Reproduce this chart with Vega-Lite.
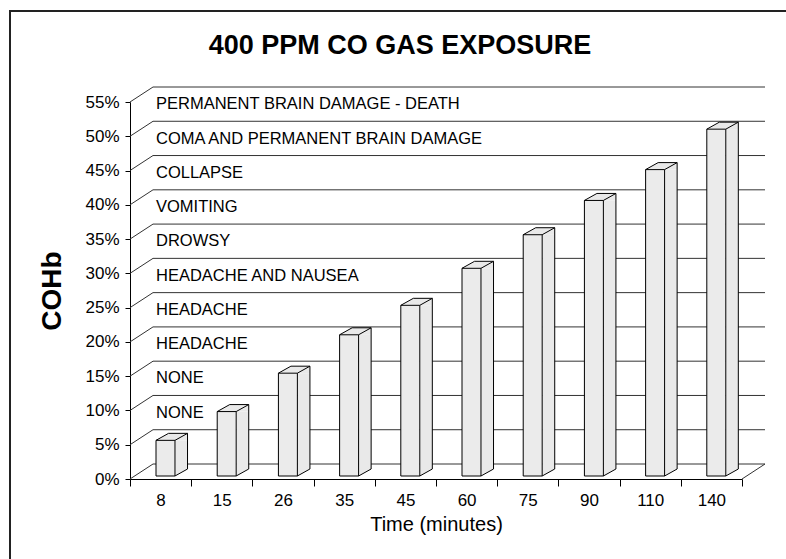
{
  "$schema": "https://vega.github.io/schema/vega-lite/v6.json",
  "autosize": "none",
  "width": 830,
  "height": 580,
  "padding": {"left": 10, "top": 11, "right": 0, "bottom": 0},
  "background": "white",
  "title": {
    "text": "400 PPM CO GAS EXPOSURE",
    "font": "Liberation Sans",
    "fontSize": 27,
    "fontWeight": "bold",
    "color": "#000",
    "anchor": "middle",
    "frame": "group",
    "baseline": "middle",
    "offset": 0,
    "dy": 62,
    "dx": -25
  },
  "config": {
    "view": {"stroke": "#222", "strokeWidth": 2},
    "font": "Liberation Sans",
    "axis": {"grid": false, "domainColor": "#000", "tickColor": "#000", "labelColor": "#000", "titleColor": "#000", "labelFont": "Liberation Sans", "titleFont": "Liberation Sans"},
    "axisY": {"offset": -120, "tickSize": 5, "labelPadding": 6, "labelFontSize": 17, "titleFontSize": 28, "titleFontWeight": "bold", "titlePadding": 18},
    "axisX": {"offset": -112, "tickSize": 7, "tickBand": "extent", "labelPadding": 6, "labelFontSize": 17, "labelAngle": 0, "titleFontSize": 20, "titleFontWeight": "normal", "titlePadding": 6}
  },
  "datasets": {
    "bars": [
      {"time": 8, "cohb": 5.2},
      {"time": 15, "cohb": 9.4},
      {"time": 26, "cohb": 15.0},
      {"time": 35, "cohb": 20.6},
      {"time": 45, "cohb": 24.9},
      {"time": 60, "cohb": 30.3},
      {"time": 75, "cohb": 35.2},
      {"time": 90, "cohb": 40.2},
      {"time": 110, "cohb": 44.7},
      {"time": 140, "cohb": 50.6}
    ],
    "levels": [
      {"level": 0}, {"level": 5}, {"level": 10}, {"level": 15}, {"level": 20}, {"level": 25},
      {"level": 30}, {"level": 35}, {"level": 40}, {"level": 45}, {"level": 50}, {"level": 55}
    ],
    "zones": [
      {"from": 5, "effect": "NONE"},
      {"from": 10, "effect": "NONE"},
      {"from": 15, "effect": "HEADACHE"},
      {"from": 20, "effect": "HEADACHE"},
      {"from": 25, "effect": "HEADACHE AND NAUSEA"},
      {"from": 30, "effect": "DROWSY"},
      {"from": 35, "effect": "VOMITING"},
      {"from": 40, "effect": "COLLAPSE"},
      {"from": 45, "effect": "COMA AND PERMANENT BRAIN DAMAGE"},
      {"from": 50, "effect": "PERMANENT BRAIN DAMAGE - DEATH"}
    ]
  },
  "layer": [
    {
      "data": {"name": "levels"},
      "mark": {"type": "rule", "color": "#333", "strokeWidth": 1, "xOffset": 23, "x2Offset": 23, "yOffset": -15},
      "encoding": {
        "x": {"datum": 8, "type": "ordinal", "bandPosition": 0, "title": "Time (minutes)",
              "scale": {"range": [120, 732], "paddingInner": 0, "paddingOuter": 0},
              "axis": {"domain": true}},
        "x2": {"datum": 140, "bandPosition": 1},
        "y": {"field": "level", "type": "quantitative", "title": "COHb",
              "scale": {"domain": [0, 55], "range": [468, 91], "nice": false, "zero": false},
              "axis": {"values": [0, 5, 10, 15, 20, 25, 30, 35, 40, 45, 50, 55], "labelExpr": "datum.value + '%'"}}
      }
    },
    {
      "data": {"name": "levels"},
      "mark": {"type": "rule", "color": "#333", "strokeWidth": 1, "x2Offset": 23, "y2Offset": -15},
      "encoding": {
        "x": {"datum": 8, "type": "ordinal", "bandPosition": 0, "title": "Time (minutes)"},
        "x2": {"datum": 8, "bandPosition": 0},
        "y": {"field": "level", "type": "quantitative", "title": "COHb"},
        "y2": {"field": "level"}
      }
    },
    {
      "data": {"name": "levels"},
      "transform": [{"filter": "datum.level == 0"}],
      "mark": {"type": "rule", "color": "#333", "strokeWidth": 1, "x2Offset": 23, "y2Offset": -15},
      "encoding": {
        "x": {"datum": 140, "type": "ordinal", "bandPosition": 1, "title": "Time (minutes)"},
        "x2": {"datum": 140, "bandPosition": 1},
        "y": {"field": "level", "type": "quantitative", "title": "COHb"},
        "y2": {"field": "level"}
      }
    },
    {
      "data": {"name": "zones"},
      "mark": {"type": "text", "align": "left", "baseline": "middle", "font": "Liberation Sans", "fontSize": 16.5, "color": "#000", "xOffset": 26, "yOffset": -32},
      "encoding": {
        "x": {"datum": 8, "type": "ordinal", "bandPosition": 0, "title": "Time (minutes)"},
        "y": {"field": "from", "type": "quantitative", "title": "COHb"},
        "text": {"field": "effect"}
      }
    },
    {
      "data": {"name": "bars"},
      "mark": {"type": "rect", "fill": "#e9e9e9", "strokeWidth": 0, "yOffset": -3, "y2Offset": -10},
      "encoding": {
        "x": {"field": "time", "type": "ordinal", "bandPosition": 0.735, "title": "Time (minutes)"},
        "x2": {"field": "time", "bandPosition": 0.94},
        "y": {"field": "cohb", "type": "quantitative", "title": "COHb"},
        "y2": {"datum": 0}
      }
    },
    {
      "data": {"name": "bars"},
      "mark": {"type": "point", "filled": true, "opacity": 1, "fill": "#e9e9e9", "strokeWidth": 0, "size": 4, "yOffset": -3,
               "shape": "M0,0L0,-7L12.55,-7Z"},
      "encoding": {
        "x": {"field": "time", "type": "ordinal", "bandPosition": 0.735, "title": "Time (minutes)"},
        "y": {"datum": 0, "type": "quantitative", "title": "COHb"}
      }
    },
    {
      "data": {"name": "bars"},
      "mark": {"type": "point", "filled": true, "opacity": 1, "fill": "#e9e9e9", "strokeWidth": 0, "size": 4, "yOffset": -3,
               "shape": "M-19,0L-6.45,-7L12.55,-7L12.55,0Z"},
      "encoding": {
        "x": {"field": "time", "type": "ordinal", "bandPosition": 0.735, "title": "Time (minutes)"},
        "y": {"field": "cohb", "type": "quantitative", "title": "COHb"}
      }
    },
    {
      "data": {"name": "bars"},
      "mark": {"type": "rect", "fill": "#ebebeb", "stroke": "#000", "strokeWidth": 1, "yOffset": -3, "y2Offset": -3},
      "encoding": {
        "x": {"field": "time", "type": "ordinal", "bandPosition": 0.425, "title": "Time (minutes)"},
        "x2": {"field": "time", "bandPosition": 0.735},
        "y": {"field": "cohb", "type": "quantitative", "title": "COHb"},
        "y2": {"datum": 0}
      }
    },
    {
      "data": {"name": "bars"},
      "mark": {"type": "point", "filled": false, "opacity": 1, "fill": null, "stroke": "#000", "strokeWidth": 1, "size": 4, "yOffset": -3,
               "shape": "M-19,0L-6.45,-7L12.55,-7L0,0"},
      "encoding": {
        "x": {"field": "time", "type": "ordinal", "bandPosition": 0.735, "title": "Time (minutes)"},
        "y": {"field": "cohb", "type": "quantitative", "title": "COHb"}
      }
    },
    {
      "data": {"name": "bars"},
      "mark": {"type": "point", "filled": false, "opacity": 1, "fill": null, "stroke": "#000", "strokeWidth": 1, "size": 4, "yOffset": -3,
               "shape": "M0,0L12.55,-7"},
      "encoding": {
        "x": {"field": "time", "type": "ordinal", "bandPosition": 0.735, "title": "Time (minutes)"},
        "y": {"datum": 0, "type": "quantitative", "title": "COHb"}
      }
    },
    {
      "data": {"name": "bars"},
      "mark": {"type": "rule", "color": "#000", "strokeWidth": 1, "yOffset": -10, "y2Offset": -10},
      "encoding": {
        "x": {"field": "time", "type": "ordinal", "bandPosition": 0.94, "title": "Time (minutes)"},
        "y": {"field": "cohb", "type": "quantitative", "title": "COHb"},
        "y2": {"datum": 0}
      }
    }
  ]
}
